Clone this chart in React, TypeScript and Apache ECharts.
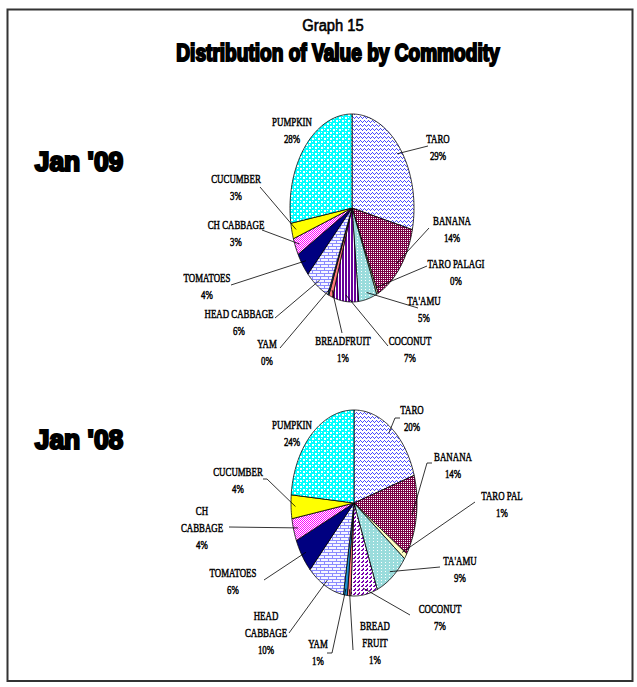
import React, { useEffect, useRef } from "react";
import * as echarts from "echarts";

const commodities09 = ["TARO", "BANANA", "TARO PALAGI", "TA'AMU", "COCONUT", "BREADFRUIT", "YAM", "HEAD CABBAGE", "TOMATOES", "CH CABBAGE", "CUCUMBER", "PUMPKIN"];
const values09 = [28.7, 14.4, 0.4, 4.8, 6.8, 1.0, 0.3, 6.2, 4.2, 2.9, 2.7, 27.6];
const commodities08 = ["TARO", "BANANA", "TARO PAL", "TA'AMU", "COCONUT", "BREAD\nFRUIT", "YAM", "HEAD\nCABBAGE", "TOMATOES", "CH\nCABBAGE", "CUCUMBER", "PUMPKIN"];
const values08 = [20.2, 14.0, 1.0, 8.8, 6.8, 0.9, 1.0, 9.6, 6.1, 3.9, 4.1, 23.6];
const periods = ["Jan '09", "Jan '08"];
const chartTitle = "Graph 15";
const chartSubtitle = "Distribution of Value by Commodity";

// layout (pixel positions of pies and hand-placed labels, as in the original)
const PIE09 = { cx: 352, cy: 208, rx: 62, ry: 94 };
const PIE08 = { cx: 354, cy: 503, rx: 63, ry: 93 };
const labelPos09: number[][] = [[438, 138], [452, 220], [456, 263], [424, 300], [410, 340], [343, 340], [267, 343], [239, 313], [207, 277], [236, 224], [236, 178], [292, 121]];
const leaderPts09: number[][][] = [[[428, 146]], [[429, 228]], [[427, 266]], [[418, 308]], [[388, 346]], [[342, 333]], [[280, 348]], [[275, 318]], [[231, 285]], [[262, 230]], [[260, 187]], []];
const labelPos08: number[][] = [[412, 409], [453, 456], [502, 495], [460, 560], [440, 608], [375, 625], [318, 643], [266, 615], [233, 572], [202, 510], [238, 471], [292, 424]];
const leaderPts08: number[][][] = [[[395, 418], [400, 418]], [[427, 463], [432, 463]], [[475, 502]], [[440, 567]], [[410, 615]], [[353, 650]], [[332, 653], [327, 653]], [[289, 633]], [[264, 580]], [[229, 527]], [[267, 479], [263, 479]], []];

function makePattern(w: number, h: number, bg: string, fg: string, px: number[][]) {
  const c = document.createElement("canvas");
  c.width = w;
  c.height = h;
  const ctx = c.getContext("2d")!;
  ctx.fillStyle = bg;
  ctx.fillRect(0, 0, w, h);
  ctx.fillStyle = fg;
  px.forEach(([x, y]) => ctx.fillRect(x, y, 1, 1));
  return { image: c, repeat: "repeat" } as any;
}

function buildFills(coconutStyle: "stripes" | "dashes") {
  const taro = makePattern(4, 4, "#ffffff", "#4b4bff", [[0, 0], [1, 1], [2, 2], [3, 1]]);
  const banana = makePattern(2, 2, "#7a0045", "#ffffff", [[1, 0]]);
  const taroPalagi = "#ffffc4";
  const taamu = makePattern(4, 3, "#9adcdc", "#ffffff", [[1, 1]]);
  const coconut =
    coconutStyle === "stripes"
      ? makePattern(3, 1, "#ffffff", "#660099", [[0, 0], [1, 0]])
      : makePattern(4, 4, "#ffffff", "#7a00b0", [[3, 0], [2, 1], [1, 2], [3, 1], [2, 2]]);
  const breadfruit = "#ff7a7a";
  const yam = "#1e8fd0";
  const headCabbage = makePattern(8, 6, "#f6f6ff", "#8a8aff", [
    [0, 0], [1, 0], [2, 0], [3, 0], [4, 0], [5, 0], [6, 0], [7, 0],
    [0, 3], [1, 3], [2, 3], [3, 3], [4, 3], [5, 3], [6, 3], [7, 3],
    [0, 1], [0, 2], [4, 4], [4, 5],
  ]);
  const tomatoes = "#000080";
  const chCabbage = makePattern(2, 2, "#ff00ff", "#ffffff", [[1, 0], [0, 1]]);
  const cucumber = "#ffff00";
  const pumpkin = makePattern(6, 6, "#00ffff", "#ffffff", [[0, 0], [1, 0], [0, 1], [1, 1], [3, 3], [4, 3], [3, 4], [4, 4], [3, 0], [0, 3]]);
  return [taro, banana, taroPalagi, taamu, coconut, breadfruit, yam, headCabbage, tomatoes, chCabbage, cucumber, pumpkin];
}

function ellipsePoint(p: any, deg: number, f: number) {
  const a = (deg * Math.PI) / 180;
  return [p.cx + p.rx * f * Math.sin(a), p.cy - p.ry * f * Math.cos(a)];
}

function makeRenderItem(values: number[], names: string[], pie: any, fills: any[], labelPos: number[][], leaders: number[][][]) {
  const total = values.reduce((s, v) => s + v, 0);
  return (params: any, api: any) => {
    const i = params.dataIndex;
    const v = api.value(0);
    let before = 0;
    for (let k = 0; k < i; k++) before += values[k];
    const a0 = (before / total) * 360;
    const a1 = ((before + v) / total) * 360;
    const pts: number[][] = [[pie.cx, pie.cy]];
    const steps = Math.max(2, Math.ceil(a1 - a0));
    for (let s = 0; s <= steps; s++) pts.push(ellipsePoint(pie, a0 + ((a1 - a0) * s) / steps, 1));
    const mid = (a0 + a1) / 2;
    const start = ellipsePoint(pie, mid, 0.93);
    const pct = Math.round((v / total) * 100) + "%";
    const [tx, ty] = labelPos[i];
    const children: any[] = [
      { type: "polygon", shape: { points: pts }, style: { fill: fills[i], stroke: "#000", lineWidth: 0.8 } },
      {
        type: "text",
        x: tx,
        y: ty - 8.5,
        scaleX: 0.68,
        z2: 20,
        style: {
          text: names[i] + "\n" + pct,
          font: "13px 'Liberation Serif'",
          fill: "#000",
          align: "center",
          textAlign: "center",
          verticalAlign: "top",
          textVerticalAlign: "top",
          lineHeight: 17,
          stroke: "#000",
          lineWidth: 0.5,
        },
      },
    ];
    if (leaders[i].length) {
      children.push({
        type: "polyline",
        z2: 15,
        shape: { points: [start, ...leaders[i]] },
        style: { stroke: "#000", lineWidth: 0.8, fill: null },
      });
    }
    return { type: "group", children };
  };
}

export default function App() {
  const ref = useRef<HTMLDivElement>(null);
  useEffect(() => {
    const chart = echarts.init(ref.current!, null, { renderer: "svg" });
    const fills09 = buildFills("stripes");
    const fills08 = buildFills("dashes");
    const heavy = (text: string, x: number, y: number, size: number, sx: number, stroke: number) => ({
      type: "text",
      x,
      y,
      scaleX: sx,
      style: {
        text,
        font: `bold ${size}px 'Liberation Sans'`,
        fill: "#000",
        stroke: "#000",
        lineWidth: stroke,
        align: "center",
        textAlign: "center",
        verticalAlign: "middle",
        textVerticalAlign: "middle",
      },
    });
    chart.setOption({
      animation: false,
      backgroundColor: "#ffffff",
      graphic: [
        { type: "rect", shape: { x: 7.5, y: 9.5, width: 625, height: 671.5 }, style: { fill: "none", stroke: "#333", lineWidth: 2 } },
        {
          type: "text",
          x: 333,
          y: 25,
          scaleX: 0.92,
          style: { text: chartTitle, font: "16px 'Liberation Sans'", fill: "#000", stroke: "#000", lineWidth: 0.6, align: "center", textAlign: "center", verticalAlign: "middle", textVerticalAlign: "middle" },
        },
        heavy(chartSubtitle, 338, 53, 23, 0.83, 2),
        heavy(periods[0], 79, 162, 27, 0.98, 2.2),
        heavy(periods[1], 79, 440, 27, 0.98, 2.2),
      ],
      series: [
        {
          type: "custom",
          coordinateSystem: "none",
          clip: false,
          data: values09,
          renderItem: makeRenderItem(values09, commodities09, PIE09, fills09, labelPos09, leaderPts09),
        },
        {
          type: "custom",
          coordinateSystem: "none",
          clip: false,
          data: values08,
          renderItem: makeRenderItem(values08, commodities08, PIE08, fills08, labelPos08, leaderPts08),
        },
      ],
    });
    return () => chart.dispose();
  }, []);
  return <div ref={ref} style={{ position: "fixed", left: 0, top: 0, width: 637, height: 687, background: "#fff" }} />;
}
